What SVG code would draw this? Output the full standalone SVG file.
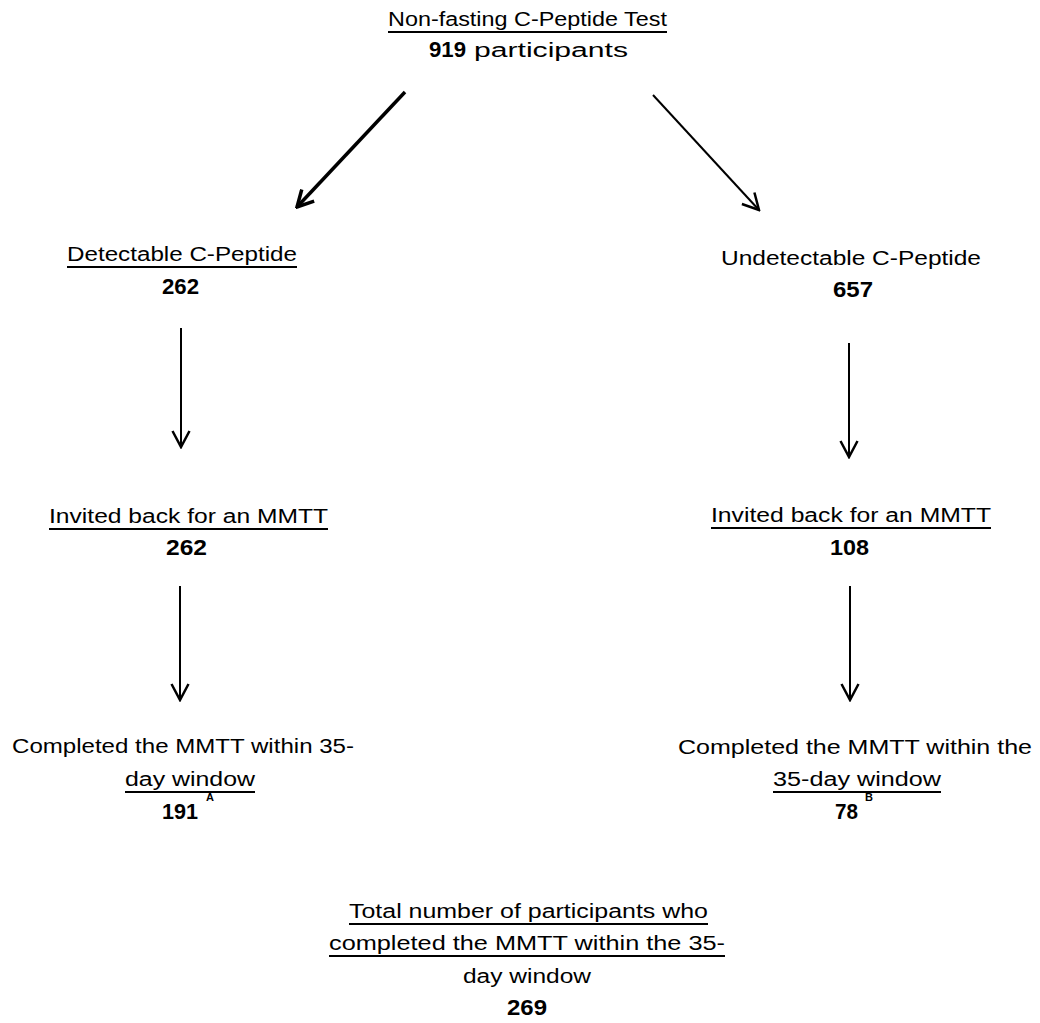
<svg xmlns="http://www.w3.org/2000/svg" width="1040" height="1023" viewBox="0 0 1040 1023">
<style>
text{font-family:"Liberation Sans",Arial,sans-serif;font-size:20px;fill:#000}
.b{font-weight:bold;font-size:22px}
.sup{font-size:11px;font-weight:bold}
.ul{stroke:#000;stroke-width:2}
.conn{stroke:#000;fill:none}
</style>
<defs>
<marker id="ah" viewBox="0 0 20 20" refX="18" refY="10" markerWidth="20" markerHeight="20" markerUnits="userSpaceOnUse" orient="auto">
<path d="M2,1.5 L18,10 L2,18.5" fill="none" stroke="#000" stroke-width="2.5"/>
</marker>
<marker id="ahb" viewBox="0 0 20 20" refX="18" refY="10" markerWidth="20" markerHeight="20" markerUnits="userSpaceOnUse" orient="auto">
<path d="M2,1.5 L18,10 L2,18.5" fill="none" stroke="#000" stroke-width="3.5"/>
</marker>
</defs>
<rect width="1040" height="1023" fill="#fff"/>
<g id="connectors">
<line class="conn" x1="405" y1="92" x2="297" y2="207" style="stroke-width:3.5" marker-end="url(#ahb)"/>
<line class="conn" x1="653" y1="95" x2="759" y2="210" style="stroke-width:2" marker-end="url(#ah)"/>
<line class="conn" x1="181" y1="328" x2="181" y2="447" style="stroke-width:2" marker-end="url(#ah)"/>
<line class="conn" x1="849" y1="343" x2="849" y2="457" style="stroke-width:2" marker-end="url(#ah)"/>
<line class="conn" x1="180" y1="586" x2="180" y2="700" style="stroke-width:2" marker-end="url(#ah)"/>
<line class="conn" x1="850" y1="586" x2="850" y2="700" style="stroke-width:2" marker-end="url(#ah)"/>
</g>
<g id="node-nonfasting">
<text x="388" y="26" textLength="279" lengthAdjust="spacingAndGlyphs">Non-fasting C-Peptide Test</text>
<line class="ul" x1="388" y1="32" x2="667" y2="32"/>
<text class="b" x="429" y="57" textLength="37" lengthAdjust="spacingAndGlyphs">919</text>
<text x="474" y="57" textLength="154" lengthAdjust="spacingAndGlyphs">participants</text>
</g>
<g id="node-detectable">
<text x="67" y="261" textLength="230" lengthAdjust="spacingAndGlyphs">Detectable C-Peptide</text>
<line class="ul" x1="67" y1="267" x2="297" y2="267"/>
<text class="b" x="162" y="294" textLength="37" lengthAdjust="spacingAndGlyphs">262</text>
</g>
<g id="node-undetectable">
<text x="721" y="265" textLength="260" lengthAdjust="spacingAndGlyphs">Undetectable C-Peptide</text>
<text class="b" x="833" y="297" textLength="40" lengthAdjust="spacingAndGlyphs">657</text>
</g>
<g id="node-invited-left">
<text x="49" y="523" textLength="279" lengthAdjust="spacingAndGlyphs">Invited back for an MMTT</text>
<line class="ul" x1="49" y1="529" x2="328" y2="529"/>
<text class="b" x="166" y="555" textLength="41" lengthAdjust="spacingAndGlyphs">262</text>
</g>
<g id="node-invited-right">
<text x="711" y="522" textLength="280" lengthAdjust="spacingAndGlyphs">Invited back for an MMTT</text>
<line class="ul" x1="711" y1="528" x2="991" y2="528"/>
<text class="b" x="830" y="555" textLength="39" lengthAdjust="spacingAndGlyphs">108</text>
</g>
<g id="node-completed-left">
<text x="12" y="753" textLength="342" lengthAdjust="spacingAndGlyphs">Completed the MMTT within 35-</text>
<text x="125" y="786" textLength="130" lengthAdjust="spacingAndGlyphs">day window</text>
<line class="ul" x1="125" y1="792" x2="255" y2="792"/>
<text class="b" x="162" y="819" textLength="36" lengthAdjust="spacingAndGlyphs">191</text>
<text class="sup" x="206" y="801">A</text>
</g>
<g id="node-completed-right">
<text x="678" y="754" textLength="354" lengthAdjust="spacingAndGlyphs">Completed the MMTT within the</text>
<text x="773" y="786" textLength="168" lengthAdjust="spacingAndGlyphs">35-day window</text>
<line class="ul" x1="773" y1="792" x2="941" y2="792"/>
<text class="b" x="835" y="819" textLength="23" lengthAdjust="spacingAndGlyphs">78</text>
<text class="sup" x="865" y="801">B</text>
</g>
<g id="node-total">
<text x="349" y="918" textLength="359" lengthAdjust="spacingAndGlyphs">Total number of participants who</text>
<line class="ul" x1="349" y1="924" x2="708" y2="924"/>
<text x="329" y="950" textLength="396" lengthAdjust="spacingAndGlyphs">completed the MMTT within the 35-</text>
<line class="ul" x1="329" y1="956" x2="725" y2="956"/>
<text x="463" y="983" textLength="128" lengthAdjust="spacingAndGlyphs">day window</text>
<text class="b" x="507" y="1015" textLength="40" lengthAdjust="spacingAndGlyphs">269</text>
</g>
</svg>
